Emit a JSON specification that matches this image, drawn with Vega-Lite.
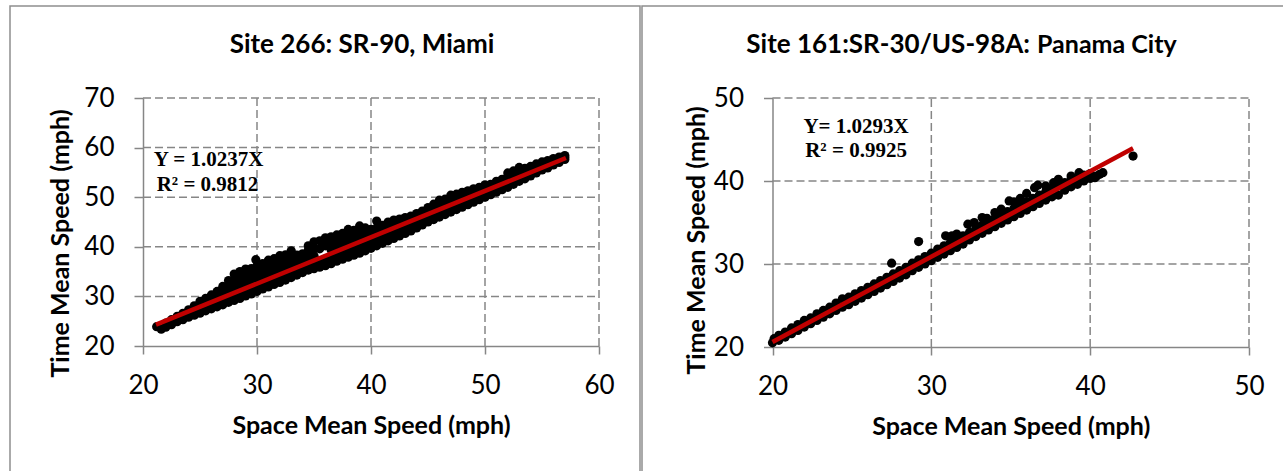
{
  "$schema": "https://vega.github.io/schema/vega-lite/v6.json",
  "background": "white",
  "padding": {"left": 9, "top": 5, "right": 0, "bottom": 0},
  "spacing": 0,
  "title": {"text": "Panama City", "anchor": "start", "frame": "group", "baseline": "alphabetic", "offset": -73, "dx": 1027, "fontSize": 25},
  "config": {
    "view": {"stroke": "#8e8e8e", "strokeWidth": 1.5, "fill": "white"},
    "font": "Lato",
    "axis": {
      "grid": false,
      "domainColor": "#868686", "domainWidth": 1.5,
      "tickColor": "#868686", "tickWidth": 1.5,
      "labelFont": "Lato", "labelFontSize": 26, "labelColor": "#000000",
      "labelFlush": false, "labelOverlap": false,
      "titleFont": "Lato", "titleFontSize": 25, "titleFontWeight": "bold", "titleColor": "#000000"
    },
    "rule": {"color": "#868686", "strokeDash": [8, 4], "strokeWidth": 1.5},
    "title": {"font": "Lato", "fontSize": 26, "fontWeight": "bold", "color": "#000000"}
  },
  "datasets": {
    "miami": [
      {"sms":21.2,"tms":23.9},{"sms":21.6,"tms":23.4},{"sms":22,"tms":23.8},{"sms":22,"tms":24.6},{"sms":22.5,"tms":24.3},{"sms":22.5,"tms":25.3},{"sms":23,"tms":24.9},{"sms":23,"tms":26},{"sms":23.5,"tms":25.3},{"sms":23.5,"tms":26.6},
      {"sms":24,"tms":25.8},{"sms":24,"tms":27.3},{"sms":24.5,"tms":26.2},{"sms":24.5,"tms":27.3},{"sms":24.5,"tms":28.1},{"sms":25,"tms":26.6},{"sms":25,"tms":27.8},{"sms":25,"tms":29},{"sms":25.5,"tms":27.1},{"sms":25.5,"tms":28.4},
      {"sms":25.5,"tms":29.6},{"sms":26,"tms":27.5},{"sms":26,"tms":28.9},{"sms":26,"tms":30.3},{"sms":26.5,"tms":27.9},{"sms":26.5,"tms":29.5},{"sms":26.5,"tms":31},{"sms":27,"tms":28.3},{"sms":27,"tms":29.8},{"sms":27,"tms":31.2},
      {"sms":27,"tms":32},{"sms":27.5,"tms":28.8},{"sms":27.5,"tms":30.3},{"sms":27.5,"tms":31.8},{"sms":27.5,"tms":33.2},{"sms":28,"tms":29.2},{"sms":28,"tms":30.7},{"sms":28,"tms":32.2},{"sms":28,"tms":33.5},{"sms":28,"tms":34.5},
      {"sms":28.5,"tms":29.6},{"sms":28.5,"tms":31.1},{"sms":28.5,"tms":32.6},{"sms":28.5,"tms":34},{"sms":28.5,"tms":35},{"sms":29,"tms":30.1},{"sms":29,"tms":31.6},{"sms":29,"tms":33},{"sms":29,"tms":34.3},{"sms":29,"tms":35.5},
      {"sms":29.5,"tms":30.5},{"sms":29.5,"tms":32},{"sms":29.5,"tms":33.4},{"sms":29.5,"tms":34.6},{"sms":29.5,"tms":35.6},{"sms":29.9,"tms":37.4},{"sms":30,"tms":31},{"sms":30,"tms":32.4},{"sms":30,"tms":33.8},{"sms":30,"tms":35},
      {"sms":30,"tms":36.2},{"sms":30.5,"tms":31.5},{"sms":30.5,"tms":32.9},{"sms":30.5,"tms":34.3},{"sms":30.5,"tms":35.6},{"sms":30.5,"tms":36.6},{"sms":31,"tms":31.9},{"sms":31,"tms":33.3},{"sms":31,"tms":34.7},{"sms":31,"tms":36},
      {"sms":31,"tms":37.3},{"sms":31.5,"tms":32.4},{"sms":31.5,"tms":33.8},{"sms":31.5,"tms":35.2},{"sms":31.5,"tms":36.5},{"sms":31.5,"tms":37.6},{"sms":32,"tms":32.8},{"sms":32,"tms":34.2},{"sms":32,"tms":35.6},{"sms":32,"tms":37},
      {"sms":32,"tms":38.2},{"sms":32.5,"tms":33.3},{"sms":32.5,"tms":34.7},{"sms":32.5,"tms":36.1},{"sms":32.5,"tms":37.4},{"sms":32.5,"tms":38.4},{"sms":33,"tms":33.8},{"sms":33,"tms":35.2},{"sms":33,"tms":36.6},{"sms":33,"tms":37.9},
      {"sms":33,"tms":39.2},{"sms":33.5,"tms":34.3},{"sms":33.5,"tms":35.7},{"sms":33.5,"tms":37.1},{"sms":33.5,"tms":38.3},{"sms":34,"tms":34.8},{"sms":34,"tms":36.2},{"sms":34,"tms":37.5},{"sms":34,"tms":38.6},{"sms":34.5,"tms":35.3},
      {"sms":34.5,"tms":36.7},{"sms":34.5,"tms":38},{"sms":34.5,"tms":39.3},{"sms":34.5,"tms":40.2},{"sms":35,"tms":35.6},{"sms":35,"tms":36.8},{"sms":35,"tms":38.2},{"sms":35,"tms":39.7},{"sms":35,"tms":41},{"sms":35.5,"tms":35.9},
      {"sms":35.5,"tms":37.2},{"sms":35.5,"tms":39.6},{"sms":35.5,"tms":41.2},{"sms":36,"tms":36.2},{"sms":36,"tms":37.5},{"sms":36,"tms":40.2},{"sms":36,"tms":41.8},{"sms":36.5,"tms":36.6},{"sms":36.5,"tms":37.9},{"sms":36.5,"tms":39.4},
      {"sms":36.5,"tms":40.8},{"sms":36.5,"tms":42},{"sms":37,"tms":37.1},{"sms":37,"tms":38.4},{"sms":37,"tms":39.8},{"sms":37,"tms":41.2},{"sms":37,"tms":42.4},{"sms":37.5,"tms":37.5},{"sms":37.5,"tms":38.8},{"sms":37.5,"tms":40.2},
      {"sms":37.5,"tms":41.6},{"sms":37.5,"tms":42.7},{"sms":38,"tms":37.9},{"sms":38,"tms":39.2},{"sms":38,"tms":40.6},{"sms":38,"tms":42},{"sms":38,"tms":43.5},{"sms":38.5,"tms":38.3},{"sms":38.5,"tms":39.6},{"sms":38.5,"tms":41},
      {"sms":38.5,"tms":42.4},{"sms":38.5,"tms":43.3},{"sms":39,"tms":38.7},{"sms":39,"tms":40},{"sms":39,"tms":41.4},{"sms":39,"tms":42.8},{"sms":39,"tms":44.2},{"sms":39.5,"tms":39.2},{"sms":39.5,"tms":40.5},{"sms":39.5,"tms":41.8},
      {"sms":39.5,"tms":43.1},{"sms":39.5,"tms":43.8},{"sms":40,"tms":39.7},{"sms":40,"tms":41},{"sms":40,"tms":42.3},{"sms":40,"tms":43.5},{"sms":40.5,"tms":45.2},{"sms":40.5,"tms":40.2},{"sms":40.5,"tms":41.5},{"sms":40.5,"tms":42.8},
      {"sms":40.5,"tms":43.8},{"sms":41,"tms":40.7},{"sms":41,"tms":42},{"sms":41,"tms":43.3},{"sms":41,"tms":44.3},{"sms":41.5,"tms":41.2},{"sms":41.5,"tms":42.5},{"sms":41.5,"tms":43.8},{"sms":41.5,"tms":45},{"sms":42,"tms":41.7},
      {"sms":42,"tms":43},{"sms":42,"tms":44.2},{"sms":42,"tms":45.4},{"sms":42.5,"tms":42.2},{"sms":42.5,"tms":43.5},{"sms":42.5,"tms":44.6},{"sms":42.5,"tms":45.6},{"sms":43,"tms":42.7},{"sms":43,"tms":44},{"sms":43,"tms":45},
      {"sms":43,"tms":45.9},{"sms":43.5,"tms":43.2},{"sms":43.5,"tms":44.4},{"sms":43.5,"tms":45.5},{"sms":43.5,"tms":46.2},{"sms":44,"tms":43.8},{"sms":44,"tms":45},{"sms":44,"tms":46},{"sms":44,"tms":46.7},{"sms":44.5,"tms":44.4},
      {"sms":44.5,"tms":45.6},{"sms":44.5,"tms":46.6},{"sms":44.5,"tms":47.2},{"sms":45,"tms":45},{"sms":45,"tms":46.1},{"sms":45,"tms":47.1},{"sms":45,"tms":47.9},{"sms":45.5,"tms":45.5},{"sms":45.5,"tms":46.6},{"sms":45.5,"tms":47.7},
      {"sms":45.5,"tms":48.6},{"sms":46,"tms":46},{"sms":46,"tms":47.1},{"sms":46,"tms":48.2},{"sms":46,"tms":49.4},{"sms":46.5,"tms":46.5},{"sms":46.5,"tms":47.6},{"sms":46.5,"tms":48.7},{"sms":46.5,"tms":49.6},{"sms":47,"tms":47},
      {"sms":47,"tms":48.1},{"sms":47,"tms":49.2},{"sms":47,"tms":50.4},{"sms":47.5,"tms":47.5},{"sms":47.5,"tms":48.6},{"sms":47.5,"tms":49.7},{"sms":47.5,"tms":50.6},{"sms":48,"tms":48},{"sms":48,"tms":49.1},{"sms":48,"tms":50.1},
      {"sms":48,"tms":51},{"sms":48.5,"tms":48.5},{"sms":48.5,"tms":49.6},{"sms":48.5,"tms":50.6},{"sms":48.5,"tms":51.3},{"sms":49,"tms":49},{"sms":49,"tms":50.1},{"sms":49,"tms":51},{"sms":49,"tms":51.7},{"sms":49.5,"tms":49.5},
      {"sms":49.5,"tms":50.6},{"sms":49.5,"tms":51.5},{"sms":49.5,"tms":52},{"sms":50,"tms":50},{"sms":50,"tms":51.1},{"sms":50,"tms":52.1},{"sms":50,"tms":52.5},{"sms":50.5,"tms":50.5},{"sms":50.5,"tms":51.6},{"sms":50.5,"tms":52.6},
      {"sms":51,"tms":51},{"sms":51,"tms":52.1},{"sms":51,"tms":53.2},{"sms":51.5,"tms":51.5},{"sms":51.5,"tms":52.6},{"sms":51.5,"tms":53.6},{"sms":52,"tms":52},{"sms":52,"tms":53.1},{"sms":52,"tms":54.1},{"sms":52,"tms":54.9},
      {"sms":52.5,"tms":52.6},{"sms":52.5,"tms":53.7},{"sms":52.5,"tms":54.7},{"sms":52.5,"tms":55.3},{"sms":53,"tms":53.2},{"sms":53,"tms":54.3},{"sms":53,"tms":55.2},{"sms":53,"tms":56},{"sms":53.5,"tms":53.7},{"sms":53.5,"tms":54.8},
      {"sms":53.5,"tms":55.8},{"sms":54,"tms":54.3},{"sms":54,"tms":55.3},{"sms":54,"tms":56.2},{"sms":54.5,"tms":54.9},{"sms":54.5,"tms":55.9},{"sms":54.5,"tms":56.7},{"sms":55,"tms":55.5},{"sms":55,"tms":56.4},{"sms":55,"tms":57.1},
      {"sms":55.5,"tms":55.9},{"sms":55.5,"tms":56.8},{"sms":55.5,"tms":57.4},{"sms":56,"tms":56.5},{"sms":56,"tms":57.1},{"sms":56,"tms":57.8},{"sms":56.5,"tms":57},{"sms":56.5,"tms":57.5},{"sms":56.5,"tms":58.1},{"sms":57,"tms":57.6},
      {"sms":57,"tms":58},{"sms":57,"tms":58.4}
    ],
    "panama": [
      {"sms":20,"tms":20.5},{"sms":20.1,"tms":21},{"sms":20.4,"tms":20.8},{"sms":20.4,"tms":21.4},{"sms":20.8,"tms":21.2},{"sms":20.8,"tms":21.8},{"sms":21.2,"tms":21.6},{"sms":21.2,"tms":22.3},{"sms":21.6,"tms":22},{"sms":21.6,"tms":22.7},
      {"sms":22,"tms":22.4},{"sms":22,"tms":23.2},{"sms":22.4,"tms":22.8},{"sms":22.4,"tms":23.5},{"sms":22.8,"tms":23.2},{"sms":22.8,"tms":24},{"sms":23.2,"tms":23.6},{"sms":23.2,"tms":24.4},{"sms":23.6,"tms":24},{"sms":23.6,"tms":24.8},
      {"sms":24,"tms":24.4},{"sms":24,"tms":25.3},{"sms":24.4,"tms":24.8},{"sms":24.4,"tms":25.8},{"sms":24.8,"tms":25.1},{"sms":24.8,"tms":26},{"sms":25.2,"tms":25.5},{"sms":25.2,"tms":26.4},{"sms":25.6,"tms":25.9},{"sms":25.6,"tms":26.8},
      {"sms":26,"tms":26.3},{"sms":26,"tms":27.2},{"sms":26.4,"tms":26.7},{"sms":26.4,"tms":27.6},{"sms":26.8,"tms":27.1},{"sms":26.8,"tms":28},{"sms":27.2,"tms":27.5},{"sms":27.2,"tms":28.4},{"sms":27.5,"tms":30.1},{"sms":27.6,"tms":27.9},
      {"sms":27.6,"tms":28.8},{"sms":28,"tms":28.3},{"sms":28,"tms":29.2},{"sms":28.4,"tms":28.7},{"sms":28.4,"tms":29.6},{"sms":28.8,"tms":29.2},{"sms":28.8,"tms":30.1},{"sms":29.2,"tms":29.6},{"sms":29.2,"tms":30.5},{"sms":29.2,"tms":32.7},
      {"sms":29.6,"tms":30},{"sms":29.6,"tms":30.9},{"sms":30,"tms":30.4},{"sms":30,"tms":31.3},{"sms":30.4,"tms":30.8},{"sms":30.4,"tms":31.8},{"sms":30.8,"tms":31.2},{"sms":30.8,"tms":32.2},{"sms":30.9,"tms":33.4},{"sms":31.2,"tms":31.6},
      {"sms":31.2,"tms":32.6},{"sms":31.3,"tms":33.4},{"sms":31.6,"tms":32},{"sms":31.6,"tms":33},{"sms":31.6,"tms":33.6},{"sms":32,"tms":32.4},{"sms":32,"tms":33.4},{"sms":32.4,"tms":32.9},{"sms":32.4,"tms":33.8},{"sms":32.3,"tms":34.8},
      {"sms":32.8,"tms":33.3},{"sms":32.8,"tms":34.3},{"sms":32.7,"tms":35},{"sms":33.2,"tms":33.7},{"sms":33.2,"tms":34.7},{"sms":33.2,"tms":35.6},{"sms":33.6,"tms":34.1},{"sms":33.6,"tms":35.1},{"sms":33.5,"tms":35.5},{"sms":34,"tms":34.5},
      {"sms":34,"tms":35.5},{"sms":34,"tms":36.2},{"sms":34.4,"tms":34.9},{"sms":34.4,"tms":35.9},{"sms":34.4,"tms":36.6},{"sms":34.8,"tms":35.3},{"sms":34.8,"tms":36.3},{"sms":34.9,"tms":37.6},{"sms":35.2,"tms":35.7},{"sms":35.2,"tms":36.7},
      {"sms":35.2,"tms":37.5},{"sms":35.6,"tms":36.1},{"sms":35.6,"tms":37.1},{"sms":35.6,"tms":37.9},{"sms":36,"tms":36.5},{"sms":36,"tms":37.5},{"sms":36,"tms":38.5},{"sms":36.4,"tms":36.9},{"sms":36.4,"tms":37.9},{"sms":36.5,"tms":39.2},
      {"sms":36.8,"tms":37.3},{"sms":36.8,"tms":38.3},{"sms":36.7,"tms":39.5},{"sms":37.2,"tms":37.7},{"sms":37.2,"tms":38.7},{"sms":37.2,"tms":39.4},{"sms":37.6,"tms":38.1},{"sms":37.6,"tms":39.1},{"sms":37.7,"tms":39.8},{"sms":38,"tms":38.3},
      {"sms":38,"tms":39.4},{"sms":38,"tms":40.2},{"sms":38.4,"tms":38.9},{"sms":38.4,"tms":39.8},{"sms":38.8,"tms":39.3},{"sms":38.8,"tms":40.2},{"sms":38.8,"tms":40.6},{"sms":39.2,"tms":39.6},{"sms":39.2,"tms":40.4},{"sms":39.3,"tms":41},
      {"sms":39.6,"tms":40},{"sms":39.6,"tms":40.7},{"sms":40,"tms":40.3},{"sms":40,"tms":40.9},{"sms":40.3,"tms":40.4},{"sms":40.4,"tms":40.6},{"sms":40.6,"tms":40.8},{"sms":40.8,"tms":41},{"sms":42.7,"tms":43}
    ]
  },
  "hconcat": [
    {
      "width": 630,
      "height": 466,
      "title": {"text": "Site 266: SR-90, Miami", "anchor": "middle", "frame": "group", "baseline": "alphabetic", "offset": -73, "dx": 37},
      "layer": [
        {
          "data": {"values": [{"sms": 30}, {"sms": 40}, {"sms": 50}, {"sms": 60}]},
          "mark": {"type": "rule"},
          "encoding": {
            "x": {"field": "sms", "type": "quantitative"},
            "y": {"datum": 20, "type": "quantitative"},
            "y2": {"datum": 70}
          }
        },
        {
          "data": {"values": [{"tms": 30}, {"tms": 40}, {"tms": 50}, {"tms": 60}, {"tms": 70}]},
          "mark": {"type": "rule"},
          "encoding": {
            "y": {"field": "tms", "type": "quantitative"},
            "x": {"datum": 20, "type": "quantitative"},
            "x2": {"datum": 60}
          }
        },
        {
          "data": {"name": "miami"},
          "mark": {"type": "circle", "size": 85, "opacity": 1, "color": "#000000"},
          "encoding": {
            "x": {
              "field": "sms", "type": "quantitative",
              "scale": {"domain": [20, 60], "range": [133, 589], "nice": false, "zero": false},
              "axis": {"orient": "bottom", "values": [20, 30, 40, 50, 60], "offset": -126, "tickSize": 8, "labelPadding": 18,
                       "title": "Space Mean Speed (mph)", "titleBaseline": "alphabetic", "titleY": 87.5}
            },
            "y": {
              "field": "tms", "type": "quantitative",
              "scale": {"domain": [20, 70], "range": [340, 92], "nice": false, "zero": false},
              "axis": {"orient": "left", "values": [20, 30, 40, 50, 60, 70], "offset": -133, "tickSize": 9, "labelPadding": 20,
                       "title": "Time Mean Speed (mph)", "titleBaseline": "alphabetic", "titleAngle": -90, "titleX": -75, "titleY": 237}
            }
          }
        },
        {
          "data": {"values": [{"sms": 21.14, "tms": 24.3}, {"sms": 57.1, "tms": 57.9}]},
          "mark": {"type": "line", "color": "#c00000", "strokeWidth": 4.5},
          "encoding": {
            "x": {"field": "sms", "type": "quantitative"},
            "y": {"field": "tms", "type": "quantitative"}
          }
        },
        {
          "data": {"values": [
            {"sms": 25.75, "tms": 57.5, "label": "Y = 1.0237X"},
            {"sms": 25.66, "tms": 52.46, "label": "R² = 0.9812"}
          ]},
          "mark": {"type": "text", "font": "Liberation Serif", "fontWeight": "bold", "fontSize": 21, "color": "#000000", "baseline": "middle", "align": "center"},
          "encoding": {
            "x": {"field": "sms", "type": "quantitative"},
            "y": {"field": "tms", "type": "quantitative"},
            "text": {"field": "label"}
          }
        }
      ]
    },
    {
      "width": 644,
      "height": 466,
      "title": {"text": "Site 161:SR-30/US-98A:", "anchor": "end", "frame": "group", "baseline": "alphabetic", "offset": -73, "dx": -256},
      "layer": [
        {
          "data": {"values": [{"sms": 30}, {"sms": 40}, {"sms": 50}]},
          "mark": {"type": "rule"},
          "encoding": {
            "x": {"field": "sms", "type": "quantitative"},
            "y": {"datum": 20, "type": "quantitative"},
            "y2": {"datum": 50}
          }
        },
        {
          "data": {"values": [{"tms": 30}, {"tms": 40}, {"tms": 50}]},
          "mark": {"type": "rule"},
          "encoding": {
            "y": {"field": "tms", "type": "quantitative"},
            "x": {"datum": 20, "type": "quantitative"},
            "x2": {"datum": 50}
          }
        },
        {
          "data": {"name": "panama"},
          "mark": {"type": "circle", "size": 85, "opacity": 1, "color": "#000000"},
          "encoding": {
            "x": {
              "field": "sms", "type": "quantitative",
              "scale": {"domain": [20, 50], "range": [130.5, 607], "nice": false, "zero": false},
              "axis": {"orient": "bottom", "values": [20, 30, 40, 50], "offset": -125, "tickSize": 8, "labelPadding": 18,
                       "title": "Space Mean Speed (mph)", "titleBaseline": "alphabetic", "titleY": 87}
            },
            "y": {
              "field": "tms", "type": "quantitative",
              "scale": {"domain": [20, 50], "range": [341, 92], "nice": false, "zero": false},
              "axis": {"orient": "left", "values": [20, 30, 40, 50], "offset": -130.5, "tickSize": 9, "labelPadding": 20,
                       "title": "Time Mean Speed (mph)", "titleBaseline": "alphabetic", "titleAngle": -90, "titleX": -68.5, "titleY": 234}
            }
          }
        },
        {
          "data": {"values": [{"sms": 20, "tms": 20.59}, {"sms": 42.7, "tms": 43.95}]},
          "mark": {"type": "line", "color": "#c00000", "strokeWidth": 4.5},
          "encoding": {
            "x": {"field": "sms", "type": "quantitative"},
            "y": {"field": "tms", "type": "quantitative"}
          }
        },
        {
          "data": {"values": [
            {"sms": 25.26, "tms": 46.5, "label": "Y= 1.0293X"},
            {"sms": 25.26, "tms": 43.6, "label": "R² = 0.9925"}
          ]},
          "mark": {"type": "text", "font": "Liberation Serif", "fontWeight": "bold", "fontSize": 21, "color": "#000000", "baseline": "middle", "align": "center"},
          "encoding": {
            "x": {"field": "sms", "type": "quantitative"},
            "y": {"field": "tms", "type": "quantitative"},
            "text": {"field": "label"}
          }
        }
      ]
    }
  ]
}
